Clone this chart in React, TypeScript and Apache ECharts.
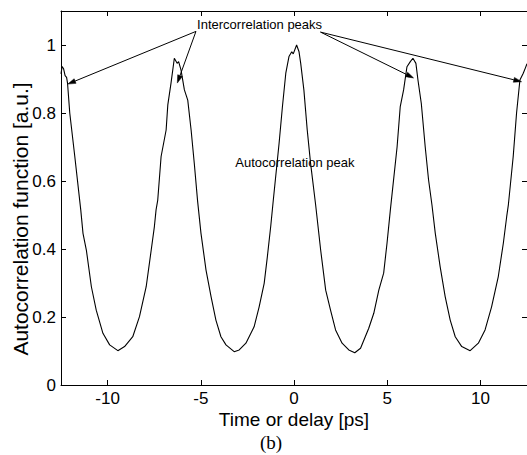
import React, { useEffect, useRef } from "react";
import * as echarts from "echarts";

// ---- data ----
const timePs = [
  -12.5, -12.44, -12.36, -12.28, -12.2, -12.15, -12.03, -11.76, -11.44, -11.32, -11.14, -10.87, -10.61,
  -10.25, -9.89, -9.45, -9.09, -8.65, -8.29, -7.93, -7.66, -7.49, -7.4, -7.31, -7.13, -6.86, -6.77,
  -6.6, -6.42, -6.27, -6.19, -6.06, -5.88, -5.7, -5.52, -5.35, -5.17, -4.99, -4.72, -4.45, -4.19,
  -3.92, -3.65, -3.21, -2.94, -2.58, -2.14, -1.87, -1.6, -1.43, -1.25, -1.11, -0.8, -0.62, -0.44,
  -0.27, -0.12, -0.04, 0.14, 0.27, 0.36, 0.53, 0.71, 0.89, 1.16, 1.43, 1.7, 1.96, 2.23, 2.58, 2.94,
  3.26, 3.57, 4.01, 4.28, 4.55, 4.81, 4.99, 5.17, 5.53, 5.7, 5.88, 6.06, 6.24, 6.38, 6.54, 6.65, 6.83,
  7.04, 7.22, 7.4, 7.58, 7.84, 8.11, 8.38, 8.65, 9.0, 9.45, 9.89, 10.25, 10.6, 10.96, 11.23, 11.41,
  11.5, 11.76, 11.94, 12.12, 12.3, 12.41, 12.5,
];
const acf = [
  0.915, 0.937, 0.93, 0.91, 0.905, 0.888, 0.8, 0.672, 0.515, 0.446, 0.397, 0.289, 0.22,
  0.152, 0.118, 0.101, 0.113, 0.142, 0.201, 0.289, 0.397, 0.466, 0.515, 0.544, 0.672, 0.75, 0.824,
  0.887, 0.961, 0.946, 0.951, 0.926, 0.868, 0.838, 0.75, 0.652, 0.54, 0.446, 0.338, 0.26, 0.191,
  0.142, 0.118, 0.098, 0.103, 0.123, 0.171, 0.23, 0.299, 0.377, 0.466, 0.544, 0.711, 0.819, 0.917,
  0.966, 0.98, 0.974, 1.0, 0.98, 0.946, 0.868, 0.75, 0.652, 0.53, 0.397, 0.279, 0.22, 0.162, 0.123, 0.103,
  0.095, 0.108, 0.167, 0.211, 0.279, 0.329, 0.417, 0.515, 0.7, 0.819, 0.868, 0.936, 0.951, 0.961, 0.946, 0.897, 0.828,
  0.7, 0.603, 0.53, 0.446, 0.348, 0.26, 0.191, 0.142, 0.113, 0.101, 0.123, 0.162, 0.23, 0.319, 0.417, 0.495,
  0.53, 0.672, 0.8, 0.897, 0.917, 0.932, 0.945,
];
const xTicks = [-10, -5, 0, 5, 10];
const yTicks = [0, 0.2, 0.4, 0.6, 0.8, 1];

// annotations (data coordinates)
const interText = { label: "Intercorrelation peaks", at: [-5.2, 1.059] };
const autoText = { label: "Autocorrelation peak", at: [-3.15, 0.653] };
const arrowTails = [[-5.26, 1.04], [-5.26, 1.04], [1.42, 1.038], [1.42, 1.038]];
const arrowHeads = [[-12.14, 0.885], [-6.26, 0.888], [6.42, 0.903], [12.21, 0.892]];

const SANS = "'Liberation Sans', Arial, sans-serif";

export default function App() {
  const ref = useRef<HTMLDivElement>(null);
  useEffect(() => {
    if (!ref.current) return;
    const chart = echarts.init(ref.current, undefined, { renderer: "svg" });
    const axisLine = { show: true, onZero: false, lineStyle: { color: "#000", width: 1 } };
    const tick = { show: true, inside: true, length: 5, lineStyle: { color: "#000", width: 1 } };
    const labelStyle = { color: "#000", fontSize: 17, fontFamily: SANS, lineHeight: 17 };
    chart.setOption({
      animation: false,
      grid: { left: 61, top: 11, width: 468, height: 374, containLabel: false },
      xAxis: [
        {
          type: "value", position: "bottom", min: -12.5, max: 12.5,
          axisLine, axisTick: { ...tick, customValues: xTicks },
          axisLabel: { ...labelStyle, margin: 5, customValues: xTicks, formatter: (v: number) => `${v}` },
          splitLine: { show: false },
        },
        {
          type: "value", position: "top", min: -12.5, max: 12.5,
          axisLine, axisTick: { ...tick, customValues: xTicks },
          axisLabel: { show: false }, splitLine: { show: false },
        },
      ],
      yAxis: [
        {
          type: "value", position: "left", min: 0, max: 1.1,
          axisLine, axisTick: { ...tick, customValues: yTicks },
          axisLabel: { ...labelStyle, margin: 5, customValues: yTicks, formatter: (v: number) => `${v}` },
          splitLine: { show: false },
        },
        {
          type: "value", position: "right", min: 0, max: 1.1,
          axisLine, axisTick: { ...tick, customValues: yTicks },
          axisLabel: { show: false }, splitLine: { show: false },
        },
      ],
      series: [
        {
          type: "line",
          xAxisIndex: 0,
          yAxisIndex: 0,
          data: timePs.map((t, i) => [t, acf[i]]),
          symbol: "none",
          lineStyle: { color: "#000", width: 1.1 },
          silent: true,
        },
      ],
    });

    const px = (p: number[]) => chart.convertToPixel({ gridIndex: 0 }, p) as number[];
    const graphics: any[] = [];
    arrowTails.forEach((tail, i) => {
      const a = px(tail);
      const b = px(arrowHeads[i]);
      const dx = b[0] - a[0];
      const dy = b[1] - a[1];
      const len = Math.hypot(dx, dy);
      const ux = dx / len, uy = dy / len;
      const hl = 8, hw = 2.5;
      const bx = b[0] - ux * hl, by = b[1] - uy * hl;
      graphics.push({
        type: "line",
        shape: { x1: a[0], y1: a[1], x2: bx, y2: by },
        style: { stroke: "#000", lineWidth: 1 },
      });
      graphics.push({
        type: "polygon",
        shape: { points: [[b[0], b[1]], [bx - uy * hw, by + ux * hw], [bx + uy * hw, by - ux * hw]] },
        style: { fill: "#000", stroke: "#000", lineWidth: 0.5 },
      });
    });
    const ip = px(interText.at);
    graphics.push({
      type: "text", x: ip[0], y: ip[1],
      style: { text: interText.label, font: `13px ${SANS}`, fill: "#000", align: "left", verticalAlign: "middle" },
    });
    const ap = px(autoText.at);
    graphics.push({
      type: "text", x: ap[0], y: ap[1],
      style: { text: autoText.label, font: `13px ${SANS}`, fill: "#000", align: "left", verticalAlign: "middle" },
    });
    graphics.push({
      type: "text", x: 20, y: 219, rotation: Math.PI / 2,
      style: { text: "Autocorrelation function [a.u.]", font: `21px ${SANS}`, fill: "#000", align: "center", verticalAlign: "middle" },
    });
    graphics.push({
      type: "text", x: 294, y: 419,
      style: { text: "Time or delay [ps]", font: `19px ${SANS}`, fill: "#000", align: "center", verticalAlign: "middle" },
    });
    graphics.push({
      type: "text", x: 271, y: 442,
      style: { text: "(b)", font: `19px 'Liberation Serif', 'Times New Roman', serif`, fill: "#000", align: "center", verticalAlign: "middle" },
    });
    chart.setOption({ graphic: graphics });

    return () => chart.dispose();
  }, []);
  return (
    <div
      ref={ref}
      style={{ position: "fixed", left: 0, top: 0, width: 527, height: 455, background: "#fff" }}
    />
  );
}
